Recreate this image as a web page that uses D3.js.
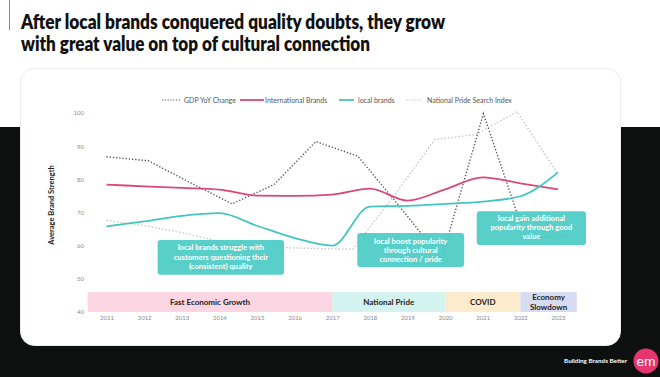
<!DOCTYPE html>
<html><head><meta charset="utf-8">
<script src="https://cdn.jsdelivr.net/npm/d3@7"></script>
<style>
html,body{margin:0;padding:0;background:#fff;}
svg{display:block;}
text{font-family:Lato,"Open Sans",sans-serif;}
</style></head>
<body>
<svg id="c" width="660" height="377"></svg>
<script>
// ---------- data ----------
const years = ["2011","2012","2013","2014","2015","2016","2017","2018","2019","2020","2021","2022","2023"];
const yTicks = [40,50,60,70,80,90,100];
const international = [78.4,77.9,77.4,76.9,75.1,75.0,75.4,77.2,73.6,77.0,80.6,78.8,77.0];
const local = [65.8,67.3,69.0,69.8,66.0,62.3,60.0,71.8,72.0,72.6,73.3,74.9,82.1];
// GDP and National Pride series are drawn with 12 evenly spaced points each
const gdpIndex = [0,1,2,3,4,5,6,7,8,9,10,11];
const gdp = [86.8,85.6,79.0,72.6,78.4,91.4,87.0,71.8,56.0,99.8,62.5,62.8];
const prideIndex = [0,1,2,3,4,5,6,7,8,9,10,11];
const pride = [67.6,65.9,63.5,60.5,59.5,59.2,58.9,75.0,92.0,93.5,100.4,81.6];
const phases = ["Fast Economic Growth","National Pride","COVID","Economy\nSlowdown"];
const phaseStart = ["2011","2017","2020","2022"];
const phaseEnd = ["2017","2020","2022","2023"];
const legendLabels = ["GDP YoY Change","International Brands","local brands","National Pride Search Index"];
const notes = [
  ["local brands struggle with","customers questioning their","(consistent) quality"],
  ["local boost popularity","through cultural","connection / pride"],
  ["local gain additional","popularity through good","value"]
];
const title = ["After local brands conquered quality doubts, they grow","with great value on top of cultural connection"];

// ---------- drawing ----------
const svg = d3.select("#c");
const pink = "#d9487c", teal = "#42c6c0", boxTeal = "#4ccbc5";
const phaseColors = ["#fcd6e2","#d4f2ef","#fdebcd","#d8dcf3"];

// background
svg.append("rect").attr("x",0).attr("y",0).attr("width",660).attr("height",377).attr("fill","#fff");
svg.append("rect").attr("x",0).attr("y",127).attr("width",660).attr("height",250).attr("fill","#0e1010");
svg.append("rect").attr("x",20.5).attr("y",68.5).attr("width",600).attr("height",277).attr("rx",14)
  .attr("fill","#fff").attr("stroke","#ececec").attr("stroke-width",1);
svg.append("line").attr("x1",9.5).attr("x2",9.5).attr("y1",0).attr("y2",30).attr("stroke","#8a8a8a").attr("stroke-width",1);

// title
svg.selectAll("text.title").data(title).join("text").attr("class","title")
  .attr("x",21).attr("y",(d,i)=>29+i*22)
  .attr("font-size",20).attr("font-weight",800).attr("fill","#111")
  .attr("textLength",(d,i)=>i===0?424:349).attr("lengthAdjust","spacingAndGlyphs")
  .text(d=>d);

// scales
const x = d3.scalePoint().domain(years).range([106.5,558]);
const step = x.step();
const y = d3.scaleLinear().domain([40,100]).range([312,113]);
const gx = d3.scalePoint().domain(gdpIndex).range([x("2011"), x("2011")+11*step*1.113]);
const px = d3.scalePoint().domain(prideIndex).range([x("2011"), x("2023")]);

// phase bands
const bandY0 = y(46), bandY1 = y(40);
phases.forEach((p,i)=>{
  const a = i===0 ? x(phaseStart[i]) - step/2 : x(phaseStart[i]);
  const b = i===phases.length-1 ? x(phaseEnd[i]) + step/2 : x(phaseEnd[i]);
  svg.append("rect").attr("x",a).attr("y",bandY0).attr("width",b-a).attr("height",bandY1-bandY0).attr("fill",phaseColors[i]);
  const ls = p.split("\n");
  ls.forEach((l,j)=>{
    svg.append("text").attr("x",(a+b)/2).attr("y",(bandY0+bandY1)/2 + 3 + (j-(ls.length-1)/2)*10)
      .attr("text-anchor","middle").attr("font-size",8).attr("font-weight",700).attr("fill","#222").text(l);
  });
});

// axes
const yAxis = svg.append("g").attr("transform","translate(84,0)")
  .call(d3.axisLeft(y).tickValues(yTicks).tickSize(0).tickPadding(0));
yAxis.select(".domain").remove();
yAxis.selectAll("text").attr("font-size",6).attr("fill","#8a8a8a").attr("font-family","Lato");
const xAxis = svg.append("g").attr("transform","translate(0,316)")
  .call(d3.axisBottom(x).tickSize(0).tickPadding(0));
xAxis.select(".domain").remove();
xAxis.selectAll("text").attr("font-size",6).attr("fill","#8a8a8a").attr("font-family","Lato");

svg.append("text").attr("transform","translate(54,205) rotate(-90)").attr("text-anchor","middle")
  .attr("font-size",7.5).attr("font-weight",700).attr("fill","#222").text("Average Brand Strength");

// lines
const smooth = d3.line().x((d,i)=>x(years[i])).y(d=>y(d)).curve(d3.curveMonotoneX);
const prideLine = d3.line().x((d,i)=>px(prideIndex[i])).y(d=>y(d));
const gdpLine = d3.line().x((d,i)=>gx(gdpIndex[i])).y(d=>y(d));

svg.append("path").attr("d",prideLine(pride)).attr("fill","none").attr("stroke","#c4c4c4")
  .attr("stroke-width",1.3).attr("stroke-dasharray","1.5,2");
svg.append("path").attr("d",gdpLine(gdp)).attr("fill","none").attr("stroke","#555")
  .attr("stroke-width",1.4).attr("stroke-dasharray","1.3,1.9");
svg.append("path").attr("d",smooth(international)).attr("fill","none").attr("stroke",pink).attr("stroke-width",1.8);
svg.append("path").attr("d",smooth(local)).attr("fill","none").attr("stroke",teal).attr("stroke-width",1.8);

// callouts (annotation geometry tied to the scales)
const boxes = [
  {x0:x("2012")+13.5, x1:x("2016")-10.6, top:y(61.7), bot:y(51.2), first:10, gap:9.5},
  {x0:x("2017")+25,   x1:x("2020")+19,   top:y(63.8), bot:y(53.6), first:10.5, gap:9},
  {x0:x("2021")-6,    x1:x("2023")+28,   top:y(70.4), bot:y(60.2), first:10, gap:9}
];
notes.forEach((lines,i)=>{
  const b = boxes[i], cx = (b.x0+b.x1)/2;
  svg.append("rect").attr("x",b.x0).attr("y",b.top).attr("width",b.x1-b.x0).attr("height",b.bot-b.top).attr("rx",3)
    .attr("fill",boxTeal).attr("opacity",0.93);
  lines.forEach((l,j)=>{
    svg.append("text").attr("x",cx).attr("y",b.top+b.first+j*b.gap).attr("text-anchor","middle")
      .attr("font-size",7.6).attr("font-weight",700).attr("fill","#fff").text(l);
  });
});

// legend
const lg = svg.append("g");
const lx0 = [162,240,339,406], lx1 = [181,264,354,423], tx = [184,265,358,427];
legendLabels.forEach((l,i)=>{
  const ln = lg.append("line").attr("x1",lx0[i]).attr("x2",lx1[i]).attr("y1",100).attr("y2",100);
  if(i===0) ln.attr("stroke","#555").attr("stroke-width",1.2).attr("stroke-dasharray","1.2,1.6");
  if(i===1) ln.attr("stroke",pink).attr("stroke-width",1.8);
  if(i===2) ln.attr("stroke",teal).attr("stroke-width",1.8);
  if(i===3) ln.attr("stroke","#bbb").attr("stroke-width",1.2).attr("stroke-dasharray","1.2,1.6");
  lg.append("text").attr("x",tx[i]).attr("y",102.5).attr("font-size",7).attr("fill","#555").text(l);
});

// footer
svg.append("text").attr("x",627).attr("y",363).attr("text-anchor","end").attr("font-size",6.3)
  .attr("font-weight",700).attr("fill","#fff").text("Building Brands Better");
svg.append("circle").attr("cx",646).attr("cy",361).attr("r",12.5).attr("fill","#e6356f");
svg.append("text").attr("x",646).attr("y",365.5).attr("text-anchor","middle").attr("font-size",14)
  .attr("fill","#fff").attr("font-family","Lato").text("em");
</script>
</body></html>
